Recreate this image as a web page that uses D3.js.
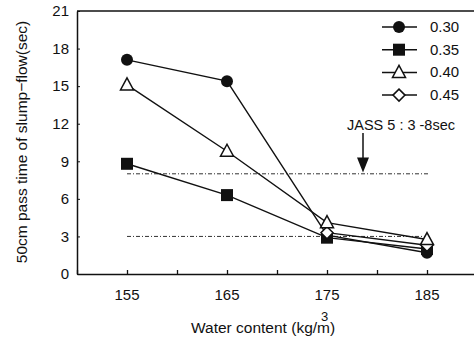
<!DOCTYPE html>
<html>
<head>
<meta charset="utf-8">
<script src="https://cdn.jsdelivr.net/npm/d3@7"></script>
<style>
  body { margin: 0; background: #fff; }
  text { font-family: "Liberation Sans", Arial, sans-serif; fill: #111; }
</style>
</head>
<body>
<div id="chart"></div>
<script>
// water content categories (kg/m3)
var water = [155, 165, 175, 185];
var xTicks = [155, 165, 175, 185];
var yTicks = [0, 3, 6, 9, 12, 15, 18, 21];

// W/B series
var seriesNames = ["0.30", "0.35", "0.40", "0.45"];
var s030 = [17.1, 15.4, 3.1, 1.7];
var s035 = [8.8, 6.3, 2.9, 2.0];
var s040 = [15.1, 9.8, 4.1, 2.75];
var s045 = [null, null, 3.3, 2.3];

// JASS 5 range
var jassRange = [3, 8];

var svgWidth = 474;
var svgHeight = 340;
var margin = { top: 11, right: -3, bottom: 66, left: 77 };
var width = svgWidth - margin.left - margin.right;
var height = svgHeight - margin.top - margin.bottom;

var svg = d3.select("#chart").append("svg")
  .attr("width", svgWidth)
  .attr("height", svgHeight);

var chartGroup = svg.append("g")
  .attr("transform", `translate(${margin.left}, ${margin.top})`);

var x = d3.scaleLinear().domain([150, 190]).range([0, width]);
var y = d3.scaleLinear().domain([0, 21]).range([height, 0]);

// frame: top line, left axis, bottom axis
chartGroup.append("line")
  .attr("x1", 0).attr("x2", width).attr("y1", 0).attr("y2", 0)
  .attr("stroke", "#111").attr("stroke-width", 1.5);

var bottomAxis = d3.axisBottom(x).tickValues(d3.range(150, 191, 5))
  .tickSize(-4).tickSizeOuter(0).tickFormat("");
var gx = chartGroup.append("g")
  .attr("transform", `translate(0, ${height})`)
  .call(bottomAxis);
gx.select(".domain").attr("stroke", "#111").attr("stroke-width", 1.5);
gx.selectAll(".tick line").attr("stroke", "#111").attr("stroke-width", 1.3);

chartGroup.append("g")
  .attr("transform", `translate(0, ${height})`)
  .selectAll("text")
  .data(xTicks)
  .enter()
  .append("text")
  .attr("x", d => x(d))
  .attr("y", 26)
  .attr("text-anchor", "middle")
  .attr("font-size", "15px")
  .text(d => d);

var leftAxis = d3.axisLeft(y).tickValues(yTicks).tickSize(-3).tickSizeOuter(0).tickPadding(8);
var gy = chartGroup.append("g").call(leftAxis);
gy.select(".domain").attr("stroke", "#111").attr("stroke-width", 1.5);
gy.selectAll(".tick line").attr("stroke", "#111");
gy.selectAll(".tick text").attr("font-size", "15px").attr("fill", "#111")
  .style("font-family", "Liberation Sans, Arial, sans-serif");

// JASS reference lines
chartGroup.selectAll(".jass")
  .data(jassRange)
  .enter()
  .append("line")
  .attr("class", "jass")
  .attr("x1", x(155)).attr("x2", x(185.3))
  .attr("y1", d => y(d)).attr("y2", d => y(d))
  .attr("stroke", "#333").attr("stroke-width", 1)
  .attr("stroke-dasharray", "4,2,1,2");

// arrow and note
var arrowX = x(178.6);
chartGroup.append("line")
  .attr("x1", arrowX).attr("x2", arrowX)
  .attr("y1", 122).attr("y2", y(8.9))
  .attr("stroke", "#111").attr("stroke-width", 1.5);
chartGroup.append("path")
  .attr("d", `M${arrowX - 6},${y(9.3)} L${arrowX + 6},${y(9.3)} L${arrowX},${y(8.1)} Z`)
  .attr("fill", "#111");
chartGroup.append("text")
  .attr("x", x(182.4)).attr("y", 119)
  .attr("text-anchor", "middle")
  .attr("font-size", "14.5px")
  .text("JASS 5 : 3 -8sec");

// series
var series = [
  { name: seriesNames[0], values: s030, shape: "circle" },
  { name: seriesNames[1], values: s035, shape: "square" },
  { name: seriesNames[2], values: s040, shape: "triangle" },
  { name: seriesNames[3], values: s045, shape: "diamond" }
];

function marker(g, shape) {
  if (shape === "circle") {
    g.append("circle").attr("r", 6).attr("fill", "#111");
  } else if (shape === "square") {
    g.append("rect").attr("x", -6).attr("y", -6).attr("width", 12).attr("height", 12).attr("fill", "#111");
  } else if (shape === "triangle") {
    g.append("path").attr("d", "M0,-7 L6.5,5 L-6.5,5 Z")
      .attr("fill", "#fff").attr("stroke", "#111").attr("stroke-width", 1.5);
  } else {
    g.append("path").attr("d", "M0,-6 L6,0 L0,6 L-6,0 Z")
      .attr("fill", "#fff").attr("stroke", "#111").attr("stroke-width", 1.5);
  }
}

var line = d3.line()
  .defined(d => d[1] != null)
  .x(d => x(d[0]))
  .y(d => y(d[1]));

// draw lines first, then markers (hollow markers last)
series.forEach(function(s) {
  chartGroup.append("path")
    .datum(water.map((w, i) => [w, s.values[i]]))
    .attr("fill", "none")
    .attr("stroke", "#111")
    .attr("stroke-width", 1.4)
    .attr("d", line);
});
[series[0], series[1], series[3], series[2]].forEach(function(s) {
  water.forEach(function(w, i) {
    if (s.values[i] == null) return;
    var g = chartGroup.append("g")
      .attr("transform", `translate(${x(w)}, ${y(s.values[i])})`);
    marker(g, s.shape);
  });
});

// legend
var legend = svg.append("g").attr("transform", "translate(382, 27)");
series.forEach(function(s, i) {
  var row = legend.append("g").attr("transform", `translate(0, ${i * 22.7})`);
  row.append("line").attr("x1", 0).attr("x2", 35).attr("y1", 0).attr("y2", 0)
    .attr("stroke", "#111").attr("stroke-width", 1.5);
  var m = row.append("g").attr("transform", "translate(17, 0)");
  marker(m, s.shape);
  row.append("text").attr("x", 48).attr("y", 5).attr("font-size", "15px").text(s.name);
});

// axis titles
svg.append("text")
  .attr("transform", `translate(27, 142) rotate(-90)`)
  .attr("text-anchor", "middle")
  .attr("font-size", "15.5px")
  .text("50cm pass time of slump\u2212flow(sec)");

svg.append("text")
  .attr("x", 191).attr("y", 333)
  .attr("font-size", "15.5px")
  .text("Water content (kg/m)");
svg.append("text")
  .attr("x", 321).attr("y", 321)
  .attr("font-size", "13px")
  .text("3");
</script>
</body>
</html>
